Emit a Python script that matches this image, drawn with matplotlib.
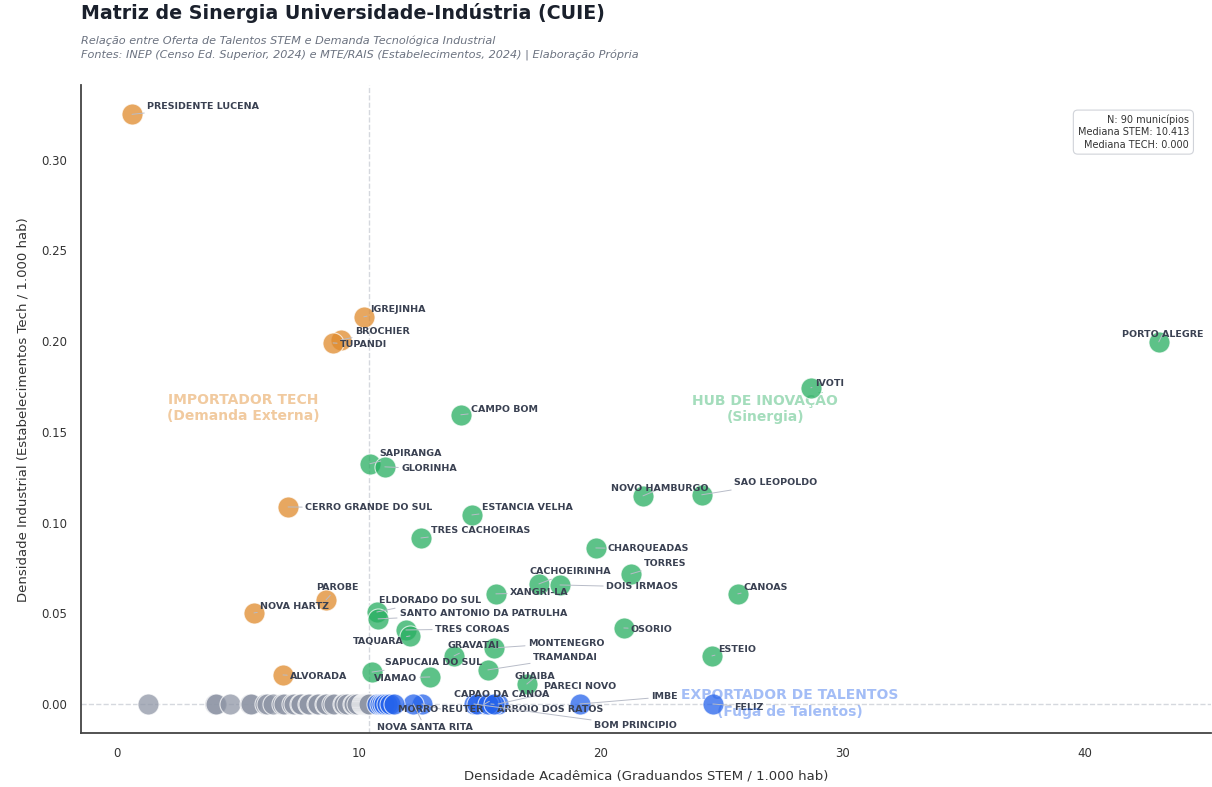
import numpy as np
import matplotlib
matplotlib.use("Agg")
import matplotlib.pyplot as plt

# municipios rotulados: nome, densidade STEM, densidade TECH
nomes = ["PRESIDENTE LUCENA", "IGREJINHA", "BROCHIER", "TUPANDI", "CERRO GRANDE DO SUL",
         "PAROBE", "NOVA HARTZ", "ALVORADA",
         "PORTO ALEGRE", "IVOTI", "CAMPO BOM", "SAPIRANGA", "GLORINHA", "NOVO HAMBURGO",
         "SAO LEOPOLDO", "ESTANCIA VELHA", "TRES CACHOEIRAS", "CHARQUEADAS", "TORRES",
         "CACHOEIRINHA", "DOIS IRMAOS", "CANOAS", "XANGRI-LA", "ELDORADO DO SUL",
         "SANTO ANTONIO DA PATRULHA", "OSORIO", "TRES COROAS", "TAQUARA", "MONTENEGRO",
         "GRAVATAI", "ESTEIO", "TRAMANDAI", "SAPUCAIA DO SUL", "VIAMAO", "GUAIBA",
         "PARECI NOVO", "CAPAO DA CANOA", "IMBE", "FELIZ", "ARROIO DOS RATOS",
         "MORRO REUTER", "BOM PRINCIPIO", "NOVA SANTA RITA"]
stem = [0.62, 10.2, 9.26, 8.93, 7.07, 8.64, 5.66, 6.86,
        43.06, 28.68, 14.21, 10.45, 11.07, 21.74, 24.17, 14.67, 12.56, 19.79, 21.24,
        17.44, 18.31, 25.66, 15.66, 10.74, 10.79, 20.95, 11.94, 12.11, 15.58,
        13.93, 24.59, 15.33, 10.54, 12.93, 16.94,
        15.75, 15.2, 19.13, 24.63, 15.45, 12.6, 14.75, 12.25]
tech = [0.325, 0.2134, 0.2007, 0.199, 0.1086, 0.0574, 0.0502, 0.016,
        0.1996, 0.1743, 0.1594, 0.1324, 0.1307, 0.1147, 0.1153, 0.1042, 0.0915, 0.086, 0.0717,
        0.0662, 0.0656, 0.0607, 0.0607, 0.0507, 0.0469, 0.0419, 0.0408, 0.0375, 0.0309,
        0.0265, 0.0265, 0.0188, 0.0176, 0.0149, 0.011,
        0.0, 0.0, 0.0, 0.0, 0.0, 0.0, 0.0, 0.0]

# municipios sem rotulo (densidade TECH = 0)
stem_sem_rotulo = [1.28, 4.05, 4.1, 4.67, 5.5, 5.55, 6.12, 6.2, 6.45, 6.82, 6.9, 7.23, 7.3,
                   7.56, 7.6, 7.89, 7.95, 8.26, 8.3, 8.6, 8.65, 8.88, 8.95, 9.34, 9.4, 9.5,
                   9.75, 9.8, 9.9, 10.12, 10.15, 10.2, 10.25, 10.3, 10.33, 10.38, 10.4,
                   10.74, 10.85, 10.95, 11.05, 11.15, 11.3, 11.45, 14.9, 15.35, 15.6]

# posicao dos rotulos (x, y em unidades do grafico)
pos_rotulo = {
    "PRESIDENTE LUCENA": (1.24, 0.3292), "IGREJINHA": (10.45, 0.2173), "BROCHIER": (9.83, 0.2052),
    "TUPANDI": (9.21, 0.1980), "CERRO GRANDE DO SUL": (7.77, 0.1081), "PAROBE": (8.22, 0.0640),
    "NOVA HARTZ": (5.91, 0.0535), "ALVORADA": (7.15, 0.0149), "PORTO ALEGRE": (41.52, 0.2035),
    "IVOTI": (28.84, 0.1765), "CAMPO BOM": (14.63, 0.1621), "SAPIRANGA": (10.83, 0.1379),
    "GLORINHA": (11.74, 0.1296), "NOVO HAMBURGO": (20.41, 0.1186), "SAO LEOPOLDO": (25.5, 0.1219),
    "ESTANCIA VELHA": (15.08, 0.1081), "TRES CACHOEIRAS": (12.98, 0.0954),
    "CHARQUEADAS": (20.29, 0.0855), "TORRES": (21.78, 0.0772), "CACHOEIRINHA": (17.07, 0.0728),
    "DOIS IRMAOS": (20.21, 0.0645), "CANOAS": (25.91, 0.0640), "XANGRI-LA": (16.24, 0.0613),
    "ELDORADO DO SUL": (10.83, 0.0568), "SANTO ANTONIO DA PATRULHA": (11.69, 0.0496),
    "OSORIO": (21.24, 0.0413), "TRES COROAS": (13.14, 0.0413), "TAQUARA": (9.75, 0.0342),
    "MONTENEGRO": (16.98, 0.0336), "GRAVATAI": (13.68, 0.0320), "ESTEIO": (24.83, 0.0298),
    "TRAMANDAI": (17.19, 0.0254), "SAPUCAIA DO SUL": (11.07, 0.0226), "VIAMAO": (10.62, 0.0143),
    "GUAIBA": (16.45, 0.0149), "PARECI NOVO": (17.64, 0.0099), "CAPAO DA CANOA": (13.93, 0.0055),
    "IMBE": (22.07, 0.0039), "FELIZ": (25.5, -0.0017), "ARROIO DOS RATOS": (15.7, -0.0028),
    "MORRO REUTER": (11.61, -0.0028), "BOM PRINCIPIO": (19.71, -0.0121),
    "NOVA SANTA RITA": (10.74, -0.0127),
}

x_all = np.array(stem + stem_sem_rotulo)
y_all = np.array(tech + [0.0] * len(stem_sem_rotulo))
med_x = 10.413
med_y = 0.0

cores = {"hub": "#27ae60", "imp": "#e08a2b", "exp": "#2563eb", "baixo": "#8f96a6"}

def quadrante(x, y):
    if y > med_y and x > med_x:
        return "hub"
    if y > med_y:
        return "imp"
    if x > med_x:
        return "exp"
    return "baixo"

fig = plt.figure(figsize=(12.12, 7.87), dpi=100)
ax = fig.add_axes([0.0668, 0.0686, 0.932, 0.823])

for q in ["baixo", "exp", "imp", "hub"]:
    m = np.array([quadrante(a, b) == q for a, b in zip(x_all, y_all)])
    ax.scatter(x_all[m], y_all[m], s=230, c=cores[q], alpha=0.75,
               edgecolors="white", linewidths=0.8, zorder=3)

ax.axvline(med_x, color="#d5d8de", ls="--", lw=1, zorder=1)
ax.axhline(med_y, color="#d5d8de", ls="--", lw=1, zorder=1)

for n, x, y in zip(nomes, stem, tech):
    tx, ty = pos_rotulo[n]
    ax.annotate(n, xy=(x, y), xytext=(tx, ty), fontsize=6.8, fontweight="bold",
                color="#3a4152", ha="left", va="center", zorder=5,
                arrowprops=dict(arrowstyle="-", color="#b8bcc8", lw=0.7,
                                shrinkA=0, shrinkB=0))

ax.text(5.2, 0.163, "IMPORTADOR TECH\n(Demanda Externa)", ha="center", va="center",
        fontsize=10, fontweight="bold", color="#e08a2b", alpha=0.45, zorder=2)
ax.text(26.8, 0.163, "HUB DE INOVAÇÃO\n(Sinergia)", ha="center", va="center",
        fontsize=10, fontweight="bold", color="#27ae60", alpha=0.42, zorder=2)
ax.text(27.8, 0.0003, "EXPORTADOR DE TALENTOS\n(Fuga de Talentos)", ha="center", va="center",
        fontsize=10, fontweight="bold", color="#2563eb", alpha=0.42, zorder=6)

ax.text(0.981, 0.955, "N: %d municípios\nMediana STEM: %.3f\nMediana TECH: %.3f"
        % (len(x_all), med_x, med_y), transform=ax.transAxes, ha="right", va="top",
        fontsize=7, color="#333333", linespacing=1.3,
        bbox=dict(boxstyle="round,pad=0.45", fc="white", ec="#d0d3d9", lw=0.8))

ax.set_xlim(-1.49, 45.2)
ax.set_ylim(-0.016, 0.341)
ax.set_yticks([0, 0.05, 0.1, 0.15, 0.2, 0.25, 0.3])
ax.set_xticks([0, 10, 20, 30, 40])
ax.yaxis.set_major_formatter(matplotlib.ticker.FormatStrFormatter("%.2f"))
ax.tick_params(length=0, labelsize=8.5, labelcolor="#333333", pad=10)
for s in ["top", "right"]:
    ax.spines[s].set_visible(False)
for s in ["left", "bottom"]:
    ax.spines[s].set_color("#444444")
    ax.spines[s].set_linewidth(1.3)
ax.set_xlabel("Densidade Acadêmica (Graduandos STEM / 1.000 hab)", fontsize=9.5,
              color="#333333", labelpad=7)
ax.set_ylabel("Densidade Industrial (Estabelecimentos Tech / 1.000 hab)", fontsize=9.5,
              color="#333333", labelpad=8)

fig.text(0.0668, 0.996, "Matriz de Sinergia Universidade-Indústria (CUIE)", fontsize=13.7,
         fontweight="bold", color="#1a202c", va="top")
fig.text(0.0668, 0.955, "Relação entre Oferta de Talentos STEM e Demanda Tecnológica Industrial\n"
         "Fontes: INEP (Censo Ed. Superior, 2024) e MTE/RAIS (Estabelecimentos, 2024) | Elaboração Própria",
         fontsize=8.1, style="italic", color="#6b7280", va="top", linespacing=1.45)

fig.savefig("out.png", dpi=100)
